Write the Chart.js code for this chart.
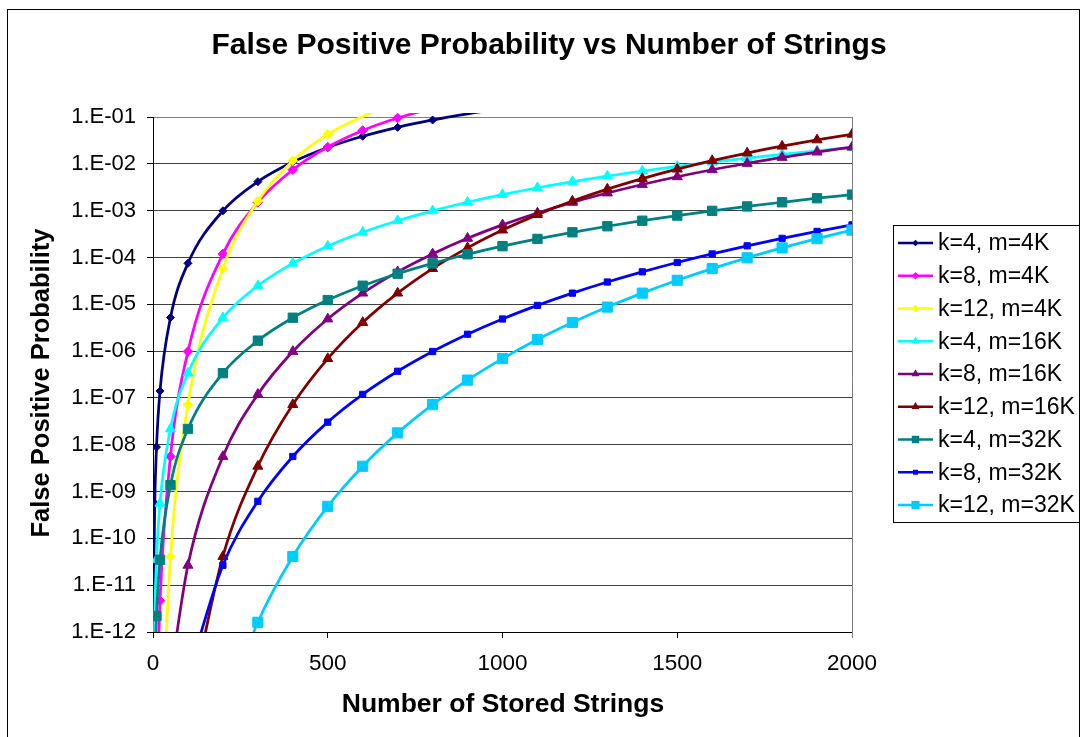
<!DOCTYPE html>
<html>
<head>
<meta charset="utf-8">
<script src="https://cdn.jsdelivr.net/npm/chart.js@4.4.1/dist/chart.umd.min.js"></script>
<style>
  html, body { margin: 0; padding: 0; background: #fff; }
  #wrap { width: 1084px; height: 737px; position: relative; }
</style>
</head>
<body>
<div id="wrap"><canvas id="myChart" width="1084" height="737"></canvas></div>
<script>
// number of stored strings (x values shared by every series)
const storedStrings = [1, 2, 5, 10, 20, 50, 100, 200, 300, 400, 500, 600, 700, 800, 900, 1000,
  1100, 1200, 1300, 1400, 1500, 1600, 1700, 1800, 1900, 2000];

const seriesNames = ['k=4, m=4K', 'k=8, m=4K', 'k=12, m=4K', 'k=4, m=16K', 'k=8, m=16K',
  'k=12, m=16K', 'k=4, m=32K', 'k=8, m=32K', 'k=12, m=32K'];

// false positive probability per series (null = not drawn, far below the axis)
const k4m4K = [9.1e-13, 1.45e-11, 5.6e-10, 8.9e-9, 1.4e-7, 5.2e-6, 7.5e-5, 9.9e-4, 4.16e-3, 1.09e-2,
  2.23e-2, 3.87e-2, 6.01e-2, 8.64e-2, 0.117, 0.151, 0.188, 0.227, 0.267, 0.308, 0.349, 0.390, 0.430, 0.469, 0.507, 0.542];
const k8m4K = [null, null, null, 1.96e-14, 4.64e-12, 5.61e-9, 9.8e-7, 1.19e-4, 1.50e-3, 7.47e-3,
  2.28e-2, 5.15e-2, 9.51e-2, 0.152, 0.220, 0.294, 0.371, 0.446, 0.518, 0.584, 0.645, 0.698, 0.745, 0.785, 0.820, 0.850];
const k12m4K = [null, null, null, null, 1.15e-15, 4.10e-11, 7.19e-8, 5.78e-5, 1.60e-3, 1.17e-2,
  4.27e-2, 0.103, 0.192, 0.298, 0.410, 0.518, 0.614, 0.696, 0.764, 0.819, 0.862, 0.895, 0.921, 0.940, 0.955, 0.966];
const k4m16K = [null, 5.7e-14, 2.2e-12, 3.5e-11, 5.6e-10, 2.17e-8, 3.38e-7, 5.16e-6, 2.49e-5, 7.49e-5,
  1.74e-4, 3.45e-4, 6.09e-4, 9.90e-4, 1.51e-3, 2.20e-3, 3.08e-3, 4.16e-3, 5.47e-3, 7.02e-3, 8.84e-3, 1.09e-2, 1.33e-2, 1.60e-2, 1.90e-2, 2.23e-2];
const k8m16K = [null, null, null, null, null, 1.14e-13, 2.66e-11, 5.61e-9, 1.19e-7, 9.8e-7,
  4.85e-6, 1.73e-5, 4.93e-5, 1.19e-4, 2.56e-4, 4.96e-4, 8.90e-4, 1.50e-3, 2.38e-3, 3.62e-3, 5.29e-3, 7.47e-3, 1.02e-2, 1.37e-2, 1.78e-2, 2.28e-2];
const k12m16K = [null, null, null, null, null, null, 1.54e-14, 4.10e-11, 3.47e-9, 7.19e-8,
  6.90e-7, 4.08e-6, 1.73e-5, 5.78e-5, 1.60e-4, 3.84e-4, 8.22e-4, 1.60e-3, 2.88e-3, 4.84e-3, 7.70e-3, 1.17e-2, 1.70e-2, 2.38e-2, 3.24e-2, 4.27e-2];
const k4m32K = [null, null, 1.39e-13, 2.2e-12, 3.5e-11, 1.37e-9, 2.17e-8, 3.38e-7, 1.67e-6, 5.16e-6,
  1.23e-5, 2.49e-5, 4.50e-5, 7.49e-5, 1.17e-4, 1.74e-4, 2.49e-4, 3.45e-4, 4.64e-4, 6.09e-4, 7.84e-4, 9.90e-4, 1.23e-3, 1.51e-3, 1.84e-3, 2.20e-3];
const k8m32K = [null, null, null, null, null, null, 1.14e-13, 2.66e-11, 6.19e-10, 5.61e-9,
  3.04e-8, 1.19e-7, 3.71e-7, 9.8e-7, 2.29e-6, 4.85e-6, 9.46e-6, 1.73e-5, 2.99e-5, 4.93e-5, 7.81e-5, 1.19e-4, 1.77e-4, 2.56e-4, 3.60e-4, 4.96e-4];
const k12m32K = [null, null, null, null, null, null, null, 1.54e-14, 1.61e-12, 4.10e-11,
  4.82e-10, 3.47e-9, 1.79e-8, 7.19e-8, 2.40e-7, 6.90e-7, 1.77e-6, 4.08e-6, 8.71e-6, 1.73e-5, 3.25e-5, 5.78e-5, 9.82e-5, 1.60e-4, 2.52e-4, 3.84e-4];

const yTickValues = [1e-1, 1e-2, 1e-3, 1e-4, 1e-5, 1e-6, 1e-7, 1e-8, 1e-9, 1e-10, 1e-11, 1e-12];
const yTickLabels = ['1.E-01', '1.E-02', '1.E-03', '1.E-04', '1.E-05', '1.E-06', '1.E-07', '1.E-08',
  '1.E-09', '1.E-10', '1.E-11', '1.E-12'];
const xTickValues = [0, 500, 1000, 1500, 2000];
const xTickLabels = ['0', '500', '1000', '1500', '2000'];

const chartTitle = 'False Positive Probability vs Number of Strings';
const xAxisTitle = 'Number of Stored Strings';
const yAxisTitle = 'False Positive Probability';

// looks
const fontFamily = "'Liberation Sans', Arial, sans-serif";
const seriesColors = ['#000080', '#FF00FF', '#FFFF00', '#00FFFF', '#800080', '#800000', '#008080', '#0000FF', '#00CCFF'];
const markerStyles = ['rectRot', 'rectRot', 'rectRot', 'triangle', 'triangle', 'triangle', 'rect', 'rect', 'rect'];
const markerSizes = [4, 4.8, 4.8, 5.8, 5.8, 5.8, 6.6, 4.4, 7.2];

const allSeries = [k4m4K, k8m4K, k12m4K, k4m16K, k8m16K, k12m16K, k4m32K, k8m32K, k12m32K];

Chart.defaults.font.family = fontFamily;
Chart.defaults.color = '#000';

function drawMarker(c, style, r, x, y, color) {
  c.fillStyle = color;
  c.beginPath();
  if (style === 'rectRot') {
    c.moveTo(x - r, y); c.lineTo(x, y - r); c.lineTo(x + r, y); c.lineTo(x, y + r);
  } else if (style === 'triangle') {
    c.moveTo(x, y - r); c.lineTo(x + r * 0.866, y + r / 2); c.lineTo(x - r * 0.866, y + r / 2);
  } else {
    const s = r * Math.SQRT1_2;
    c.rect(x - s, y - s, 2 * s, 2 * s);
  }
  c.closePath();
  c.fill();
}

// frame, titles and the boxed legend on the right
const chartDecor = {
  id: 'chartDecor',
  beforeDraw(chart) {
    const c = chart.ctx;
    c.save();
    c.fillStyle = '#fff';
    c.fillRect(0, 0, chart.width, chart.height);
    c.restore();
  },
  afterDraw(chart) {
    const c = chart.ctx;
    const a = chart.chartArea;
    c.save();
    c.strokeStyle = '#000';
    c.lineWidth = 1;
    c.strokeRect(7.5, 9.5, 1072, 760);

    c.strokeStyle = '#808080';
    c.beginPath();
    c.moveTo(a.right + 0.5, a.top);
    c.lineTo(a.right + 0.5, a.bottom + 6);
    c.stroke();

    c.fillStyle = '#000';
    c.textAlign = 'center';
    c.textBaseline = 'middle';
    c.font = 'bold 30px ' + fontFamily;
    c.fillText(chartTitle, 549, 46);
    c.font = 'bold 26.5px ' + fontFamily;
    c.fillText(xAxisTitle, 503, 705);
    c.save();
    c.font = 'bold 25.5px ' + fontFamily;
    c.translate(42, 383);
    c.rotate(-Math.PI / 2);
    c.fillText(yAxisTitle, 0, 0);
    c.restore();

    // legend
    c.fillStyle = '#fff';
    c.fillRect(893.5, 225.5, 186, 297);
    c.strokeStyle = '#000';
    c.lineWidth = 1;
    c.strokeRect(893.5, 225.5, 186, 297);
    c.font = '23px ' + fontFamily;
    c.textAlign = 'left';
    seriesNames.forEach((name, i) => {
      const y = 243 + i * 32.75;
      c.strokeStyle = seriesColors[i];
      c.lineWidth = 2.5;
      c.beginPath();
      c.moveTo(898, y);
      c.lineTo(933, y);
      c.stroke();
      drawMarker(c, markerStyles[i], markerSizes[i] * 0.8, 915.5, y, seriesColors[i]);
      c.fillStyle = '#000';
      c.fillText(name, 938, y + 1);
    });
    c.restore();
  }
};

const datasets = allSeries.map((vals, i) => ({
  label: seriesNames[i],
  data: storedStrings.map((n, j) => ({ x: n, y: vals[j] })),
  borderColor: seriesColors[i],
  backgroundColor: seriesColors[i],
  borderWidth: 2.75,
  pointStyle: markerStyles[i],
  pointRadius: (ctx) => {
    const v = ctx.raw ? ctx.raw.y : null;
    return (v == null || v < 1e-12 || v > 0.1) ? 0 : markerSizes[i];
  },
  pointBorderWidth: 1,
  cubicInterpolationMode: 'monotone',
  order: -i,
  clip: { left: 0, top: 4, right: 0, bottom: 0 }
}));

const myChart = new Chart(document.getElementById('myChart').getContext('2d'), {
  type: 'line',
  data: { datasets: datasets },
  options: {
    responsive: false,
    animation: false,
    events: [],
    layout: { padding: { top: 117, right: 232, bottom: 0, left: 0 } },
    plugins: {
      legend: { display: false },
      tooltip: { enabled: false },
      title: { display: false }
    },
    scales: {
      x: {
        type: 'linear',
        min: 0,
        max: 2000,
        afterBuildTicks: (s) => { s.ticks = xTickValues.map(v => ({ value: v })); },
        afterFit: (s) => { s.height = 105; },
        grid: { drawOnChartArea: false, drawTicks: true, tickLength: 6, tickColor: '#000', color: '#000' },
        border: { display: true, color: '#000', width: 1 },
        ticks: {
          color: '#000',
          font: { size: 22.5 },
          padding: 12,
          maxRotation: 0,
          autoSkip: false,
          callback: (v) => {
            const i = xTickValues.indexOf(v);
            return i >= 0 ? xTickLabels[i] : '';
          }
        }
      },
      y: {
        type: 'logarithmic',
        min: 1e-12,
        max: 0.1,
        afterBuildTicks: (s) => { s.ticks = yTickValues.map(v => ({ value: v })); },
        afterFit: (s) => { s.width = 153; },
        grid: {
          color: (c) => (c.tick && c.tick.value === 0.1) ? '#808080' : '#404040',
          tickColor: '#000',
          tickLength: 6
        },
        border: { display: true, color: '#000', width: 1 },
        ticks: {
          color: '#000',
          font: { size: 22 },
          padding: 11,
          autoSkip: false,
          callback: (v) => {
            const i = yTickValues.indexOf(v);
            return i >= 0 ? yTickLabels[i] : '';
          }
        }
      }
    }
  },
  plugins: [chartDecor]
});
</script>
</body>
</html>
